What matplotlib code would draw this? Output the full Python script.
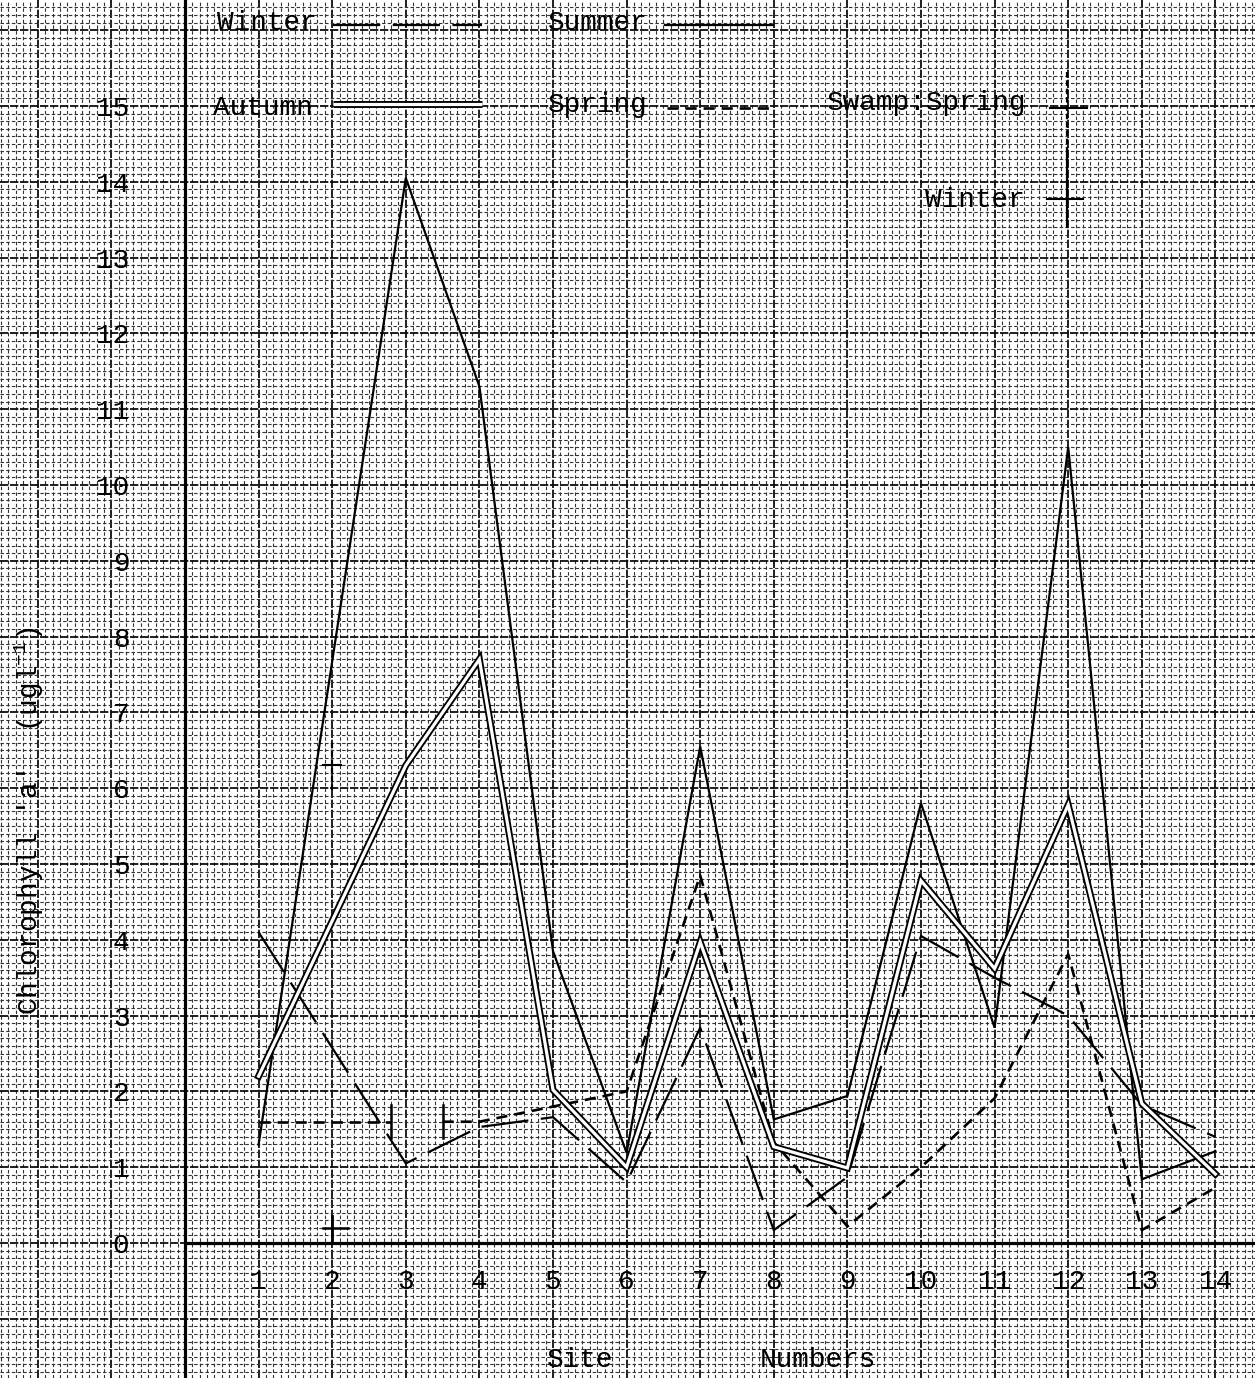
import numpy as np
import matplotlib
matplotlib.use("Agg")
import matplotlib.pyplot as plt

# ---- data ---------------------------------------------------------------
sites = np.arange(1, 15)
site_labels = [str(s) for s in sites]
summer = np.array([1.30, np.nan, 14.05, 11.30, 3.85, 1.19, 6.55, 1.63, 1.94, 5.80, 2.84, 10.50, 0.84, 1.21])
autumn = np.array([2.20, np.nan, 6.30, 7.70, 2.02, 1.00, 3.97, 1.27, 0.99, 4.78, 3.62, 5.78, 1.84, 0.91])
winter = np.array([4.10, np.nan, 1.05, 1.53, 1.66, 0.80, 2.84, 0.17, 0.87, 4.05, 3.50, 3.00, 1.82, 1.40])
spring = np.array([1.60, 1.60, np.nan, 1.60, 1.80, 2.00, 4.85, 1.33, 0.22, 1.00, 1.91, 3.81, 0.17, 0.73])
swamp_site = 2
swamp_spring = 6.30
swamp_winter = 0.20
y_ticks = np.arange(0, 16)

# ---- styling ------------------------------------------------------------
plt.rcParams["font.family"] = ["Liberation Mono", "DejaVu Sans Mono"]
plt.rcParams["mathtext.fontset"] = "custom"
plt.rcParams["mathtext.rm"] = "Liberation Mono"
plt.rcParams["mathtext.it"] = "Liberation Mono"
plt.rcParams["lines.scale_dashes"] = False

W, H = 1255, 1378          # canvas size in pixels
X0, Y0 = 185, 1243         # pixel position of the origin
PX_X, PX_Y = 73.6, 75.8    # pixels per unit on each axis
FS = 20

INK = "black"
WINTER_DASH = (0, (34, 9))
SPRING_DASH = (0, (8, 5))

fig = plt.figure(figsize=(W / 100, H / 100), dpi=100)
fig.patch.set_facecolor("white")

# ---- graph paper background --------------------------------------------
bg = fig.add_axes([0, 0, 1, 1], zorder=0)
bx0, bx1 = -X0 / PX_X, (W - X0) / PX_X
by0, by1 = -(H - Y0) / PX_Y, Y0 / PX_Y
bg.set_xlim(bx0, bx1)
bg.set_ylim(by0, by1)
bg.set_xticks(np.arange(np.ceil(bx0), bx1 + 1e-9, 1.0))
bg.set_yticks(np.arange(np.ceil(by0), by1 + 1e-9, 1.0))
bg.set_xticks(np.round(np.arange(np.ceil(bx0 * 10) / 10, bx1, 0.1), 2), minor=True)
bg.set_yticks(np.round(np.arange(np.ceil(by0 * 10) / 10, by1, 0.1), 2), minor=True)
bg.grid(which="minor", color="0.2", lw=0.8, linestyle=(0, (2.5, 1.6)))
bg.grid(which="major", color="0.05", lw=1.3, linestyle=(0, (6, 1.2)))
bg.tick_params(which="both", length=0, labelbottom=False, labelleft=False)
for s in bg.spines.values():
    s.set_visible(False)
bg.axvline(0, color=INK, lw=2.3)
bg.plot([0, bx1], [0, 0], color=INK, lw=2.3, solid_capstyle="butt")

# ---- data axes ------------------------------------------------------------
ax = fig.add_axes([X0 / W, (H - Y0) / H, (W - X0) / W, Y0 / H], zorder=1)
ax.patch.set_alpha(0)
ax.set_xlim(0, (W - X0) / PX_X)
ax.set_ylim(0, Y0 / PX_Y)
for s in ax.spines.values():
    s.set_visible(False)
ax.set_xticks(sites)
ax.set_xticklabels(site_labels)
ax.set_yticks(y_ticks)
ax.set_yticklabels([str(v) for v in y_ticks])
ax.tick_params(axis="y", length=0, pad=40, labelsize=FS)
ax.tick_params(axis="x", length=0, pad=19, labelsize=FS)


def connected(vals):
    m = ~np.isnan(vals)
    return sites[m], vals[m]


# Summer: thin solid line
ax.plot(*connected(summer), color=INK, lw=1.6, solid_joinstyle="miter", zorder=3)

# Autumn: double line (black stroke with a white core)
ax_x, ax_y = connected(autumn)
ax.plot(ax_x, ax_y, color=INK, lw=5.0, solid_joinstyle="miter", zorder=4)
ax.plot(ax_x, ax_y, color="white", lw=2.3, solid_joinstyle="miter", zorder=4)

# Winter: long dashes
ax.plot(*connected(winter), color=INK, lw=1.6, linestyle=WINTER_DASH, zorder=3)

# Spring: short dashes, broken where a site is missing
gap = np.where(np.isnan(spring))[0]
i0, i1 = gap[0] - 1, gap[-1] + 1
break_lo, break_hi = 2.8, 3.5


def along_gap(xq):
    return np.interp(xq, [sites[i0], sites[i1]], [spring[i0], spring[i1]])


ax.plot(np.r_[sites[:i0 + 1], break_lo], np.r_[spring[:i0 + 1], along_gap(break_lo)],
        color=INK, lw=1.9, linestyle=SPRING_DASH, zorder=3)
ax.plot(np.r_[break_hi, sites[i1:]], np.r_[along_gap(break_hi), spring[i1:]],
        color=INK, lw=1.9, linestyle=SPRING_DASH, zorder=3)
for xb in (break_lo, break_hi):
    yb = along_gap(xb)
    ax.plot([xb, xb], [yb - 0.22, yb + 0.22], color=INK, lw=1.8, zorder=3)

# Swamp (site 2) readings
ax.plot([swamp_site, swamp_site], [swamp_spring - 0.33, swamp_spring + 0.33],
        color=INK, lw=1.6, linestyle=(0, (4, 2)), zorder=3)
ax.plot([swamp_site - 0.12, swamp_site + 0.12], [swamp_spring, swamp_spring],
        color=INK, lw=1.5, zorder=3)
ax.plot([swamp_site - 0.13, swamp_site + 0.22], [swamp_winter, swamp_winter],
        color=INK, lw=1.8, zorder=3)
ax.plot([swamp_site, swamp_site], [0, swamp_winter + 0.15], color=INK, lw=2.0, zorder=3)

# ---- key ------------------------------------------------------------------
ax.text(0.43, 16.0, "Winter", fontsize=FS, ha="left", va="baseline")
ax.plot([2.01, 4.04], [16.07, 16.07], color=INK, lw=1.6, linestyle=WINTER_DASH)
ax.text(4.93, 16.0, "Summer", fontsize=FS, ha="left", va="baseline")
ax.plot([6.52, 7.99], [16.07, 16.07], color=INK, lw=1.6)

ax.text(0.38, 14.88, "Autumn", fontsize=FS, ha="left", va="baseline")
ax.plot([2.01, 4.04], [15.03, 15.03], color=INK, lw=5.0, solid_capstyle="butt")
ax.plot([2.01, 4.04], [15.03, 15.03], color="white", lw=2.3, solid_capstyle="butt")
ax.text(4.93, 14.92, "Spring", fontsize=FS, ha="left", va="baseline")
ax.plot([6.55, 7.99], [14.97, 14.97], color=INK, lw=1.9, linestyle=SPRING_DASH)

ax.text(8.72, 14.95, "Swamp:Spring", fontsize=FS, ha="left", va="baseline")
ax.plot([11.75, 12.26], [14.97, 14.97], color=INK, lw=1.5)
ax.plot([11.98, 11.98], [15.45, 14.45], color=INK, lw=1.6, linestyle=(0, (4, 2)))
ax.text(10.05, 13.67, "Winter", fontsize=FS, ha="left", va="baseline")
ax.plot([11.71, 12.20], [13.77, 13.77], color=INK, lw=1.5)
ax.plot([11.98, 11.98], [14.45, 13.40], color=INK, lw=1.6)

# ---- axis titles ------------------------------------------------------------
fig.text(29 / W, 1 - 821 / H, "Chlorophyll 'a'  (ugl$^{-1}$)", rotation=90,
         ha="center", va="center", fontsize=FS)
fig.text(580 / W, 1 - 1360 / H, "Site", ha="center", va="center", fontsize=FS)
fig.text(818 / W, 1 - 1360 / H, "Numbers", ha="center", va="center", fontsize=FS)

fig.savefig("out.png", dpi=100, facecolor="white")
